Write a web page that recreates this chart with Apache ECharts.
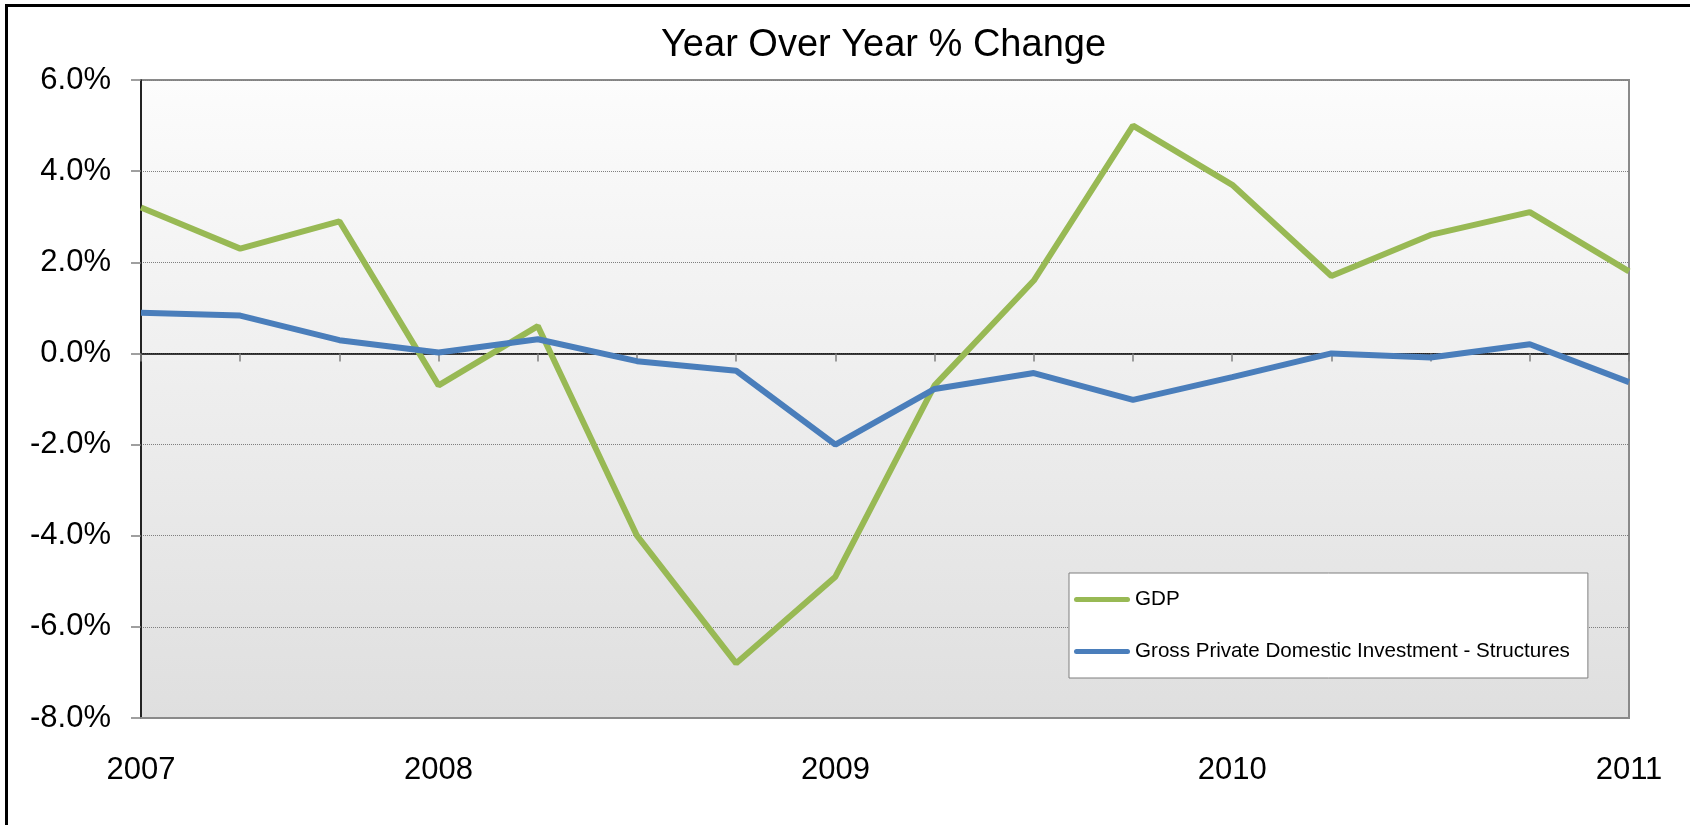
<!DOCTYPE html>
<html>
<head>
<meta charset="utf-8">
<script src="https://cdn.jsdelivr.net/npm/echarts@6/dist/echarts.min.js"></script>
<style>
html,body{margin:0;padding:0;background:#fff;}
#chart{width:1690px;height:825px;}
</style>
</head>
<body>
<div id="chart"></div>
<script>
// Period labels (only some periods carry a year label)
const categories = ['2007','','','2008','','','','2009','','','','2010','','','','2011'];
const gdp = [3.2, 2.3, 2.9, -0.7, 0.6, -4.0, -6.8, -4.9, -0.7, 1.6, 5.0, 3.7, 1.7, 2.6, 3.1, 1.8];
const structures = [0.89, 0.83, 0.29, 0.02, 0.31, -0.17, -0.38, -2.0, -0.78, -0.43, -1.02, -0.52, 0.0, -0.09, 0.2, -0.63];
const seriesNames = ['GDP', 'Gross Private Domestic Investment - Structures'];
const seriesColors = ['#98b954', '#4a7ebb'];
const yTicks = { min: -8, max: 6, step: 2 };

const FONT = 'Liberation Sans, Arial, sans-serif';
const LINE_ICON = 'path://M2.5,0H53.5A2.5,2.5,0,0,1,53.5,5H2.5A2.5,2.5,0,0,1,2.5,0Z';
const chart = echarts.init(document.getElementById('chart'));
chart.setOption({
  animation: false,
  backgroundColor: '#ffffff',
  textStyle: { fontFamily: FONT },
  title: {
    text: 'Year Over Year % Change',
    left: 656, top: 22,
    textStyle: { fontFamily: FONT, fontSize: 38, fontWeight: 'normal', color: '#000' }
  },
  graphic: [{
    type: 'rect', silent: true, z: 100,
    shape: { x: 6.5, y: 5.5, width: 3000, height: 3000 },
    style: { fill: 'none', stroke: '#000', lineWidth: 3 }
  }],
  legend: {
    orient: 'vertical',
    left: 1069, top: 573,
    padding: [16, 18, 16, 5],
    itemGap: 31,
    itemWidth: 56, itemHeight: 5,
    backgroundColor: '#ffffff',
    borderColor: '#7f7f7f', borderWidth: 1,
    textStyle: { fontFamily: FONT, fontSize: 20.6, color: '#000' },
    data: seriesNames.map((n, i) => ({ name: n, icon: LINE_ICON, itemStyle: { color: seriesColors[i] } }))
  },
  grid: {
    left: 141, top: 80, right: 61, bottom: 107,
    show: true,
    backgroundColor: new echarts.graphic.LinearGradient(0, 0, 0, 1, [
      { offset: 0, color: '#fcfcfc' },
      { offset: 1, color: '#dfdfdf' }
    ]),
    borderColor: '#8a8a8a', borderWidth: 2
  },
  xAxis: [{
    type: 'category',
    data: categories,
    boundaryGap: false,
    position: 'bottom',
    axisLine: { onZero: false, lineStyle: { color: '#8a8a8a', width: 2 } },
    axisTick: { show: false },
    axisLabel: { interval: 0, fontFamily: FONT, fontSize: 31, color: '#000', margin: 37 },
    splitLine: { show: false }
  }, {
    type: 'category',
    data: categories,
    boundaryGap: false,
    position: 'bottom',
    axisLine: { onZero: true, lineStyle: { color: '#000', width: 1.5 } },
    axisTick: { show: true, interval: 0, length: 8, lineStyle: { color: '#808080', width: 1.5 } },
    axisLabel: { show: false },
    splitLine: { show: false }
  }],
  yAxis: {
    type: 'value',
    min: yTicks.min, max: yTicks.max, interval: yTicks.step,
    axisLine: { show: true, onZero: false, lineStyle: { color: '#000', width: 1.5 } },
    axisTick: { show: true, length: 10, lineStyle: { color: '#808080', width: 1.5 } },
    axisLabel: {
      fontFamily: FONT, fontSize: 31, color: '#000', margin: 30,
      formatter: v => v.toFixed(1) + '%'
    },
    splitLine: { show: true, lineStyle: { color: '#7f7f7f', width: 1, type: 'dotted' } }
  },
  series: [{
    name: seriesNames[0], type: 'line', data: gdp,
    symbol: 'none', color: seriesColors[0],
    lineStyle: { color: seriesColors[0], width: 6 }
  }, {
    name: seriesNames[1], type: 'line', data: structures,
    symbol: 'none', color: seriesColors[1],
    lineStyle: { color: seriesColors[1], width: 6 }
  }]
});
</script>
</body>
</html>
